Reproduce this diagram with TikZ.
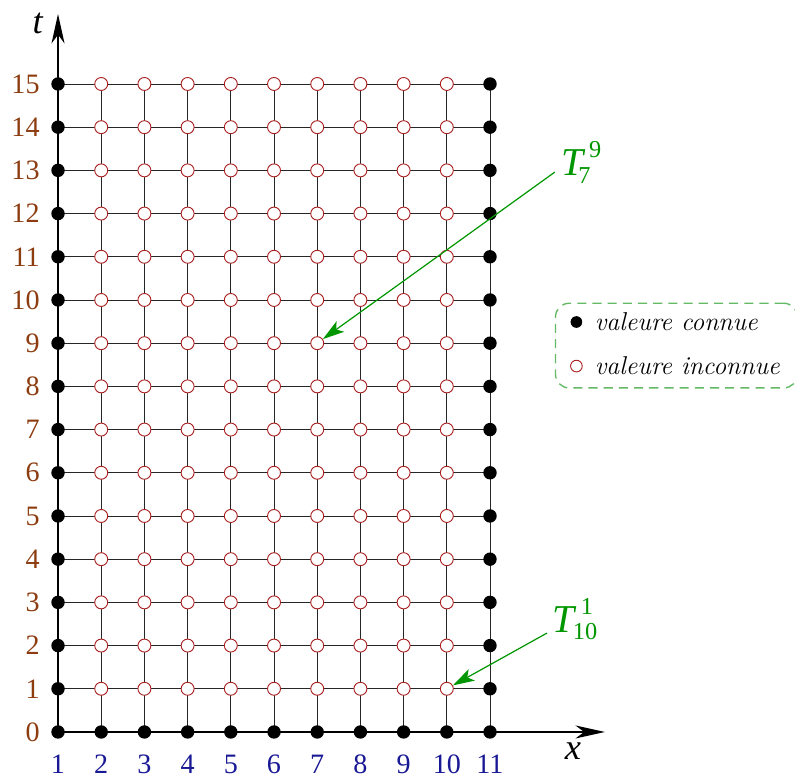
\documentclass[tikz,border=0pt]{standalone}
\usepackage{fontspec}
\setmainfont{Liberation Serif}
\newfontfamily\lmfont{Latin Modern Roman}
\usetikzlibrary{arrows.meta}
\definecolor{tbrown}{RGB}{140,60,15}
\definecolor{xblue}{RGB}{25,25,150}
\definecolor{tgreen}{RGB}{0,150,0}
\definecolor{lgreen}{RGB}{100,185,100}
\definecolor{dred}{RGB}{170,30,30}
\newcommand{\Tsym}[4]{\textit{T}\kern#3\rlap{\raisebox{0.46em}{\kern#4\fontsize{16}{16}\selectfont #2}}\raisebox{-0.19em}{\fontsize{16}{16}\selectfont #1}}
\begin{document}
\begin{tikzpicture}[x=1cm,y=1cm,
  known/.style={circle,fill=black,inner sep=0pt,minimum size=0.31cm},
  unknown/.style={circle,draw=dred,fill=white,line width=0.6pt,inner sep=0pt,minimum size=0.30cm},
  gridline/.style={line width=0.6pt,black!85},
  axisline/.style={line width=1.3pt,-{Stealth[length=0.68cm,width=0.3cm,inset=0.2cm]}},
  tlab/.style={text=tbrown,font=\fontsize{18.5}{20}\selectfont,anchor=east,inner sep=0pt},
  xlab/.style={text=xblue,font=\fontsize{18.5}{20}\selectfont,inner sep=0pt},
  glab/.style={text=tgreen,font=\fontsize{26}{28}\selectfont,inner sep=0pt,anchor=base west},
  garrow/.style={tgreen,line width=0.8pt,-{Stealth[length=0.5cm,width=0.3cm,inset=0.12cm]}},
  legtext/.style={font=\lmfont\fontsize{17}{19}\selectfont\itshape,anchor=west,inner sep=0pt}]
\useasboundingbox (-1.343,-1.019) rectangle (17.06,16.944);
% coordinates
\foreach \i in {1,...,11}{
  \foreach \j in {0,...,15}{
    \coordinate (c-\i-\j) at ({\i-1},\j);
  }
}
\coordinate (xend) at (12.66,0);
\coordinate (tend) at (0,16.62);
% grid lines
\foreach \i in {2,...,11}{
  \foreach \j [evaluate=\j as \jn using int(\j+1)] in {0,...,14}{
    \draw[gridline] (c-\i-\j) -- (c-\i-\jn);
  }
}
\foreach \j in {1,...,15}{
  \foreach \i [evaluate=\i as \in using int(\i+1)] in {1,...,10}{
    \draw[gridline] (c-\i-\j) -- (c-\in-\j);
  }
}
% axes
\draw[axisline] (c-1-0) -- (xend);
\draw[axisline] (c-1-0) -- (tend);
% points
\foreach \j in {0,...,15}{
  \node[known] (p-1-\j) at (c-1-\j) {};
  \node[known] (p-11-\j) at (c-11-\j) {};
}
\foreach \i in {2,...,10}{
  \node[known] (p-\i-0) at (c-\i-0) {};
  \foreach \j in {1,...,15}{
    \node[unknown] (p-\i-\j) at (c-\i-\j) {};
  }
}
% labels
\foreach \j in {0,...,15}{
  \node[tlab] (tl-\j) at (-0.42,\j) {\j};
}
\foreach \i in {1,...,11}{
  \node[xlab] (xl-\i) at ({\i-1},-0.75) {\i};
}
\node[font=\fontsize{24}{26}\selectfont\itshape] (tname) at (-0.47,16.4) {t};
\node[font=\fontsize{24}{26}\selectfont\itshape] (xname) at (11.92,-0.45) {x};
% green annotations
\node[glab] (T79) at (11.64,12.87) {\Tsym{7}{9}{-0.18em}{0.27em}};
\node[glab] (T101) at (11.44,2.31) {\Tsym{10}{1}{-0.1em}{0.2em}};
\coordinate (a79) at (11.50,12.96);
\coordinate (a101) at (11.32,2.29);
\draw[garrow] (a79) -- (p-7-9);
\draw[garrow] (a101) -- (p-10-1);
% legend
\node[draw=lgreen,dashed,dash pattern=on 6pt off 4pt,line width=0.9pt,rounded corners=9pt,
      minimum width=5.6cm,minimum height=1.96cm,anchor=north west] (leg) at (11.5,9.94) {};
\node[known,minimum size=0.27cm] (lk) at (12.0,9.49) {};
\node[unknown,minimum size=0.27cm] (lu) at (12.0,8.47) {};
\node[legtext] (lkt) at (12.42,9.49) {valeure connue};
\node[legtext] (lut) at (12.42,8.47) {valeure inconnue};
\end{tikzpicture}
\end{document}
